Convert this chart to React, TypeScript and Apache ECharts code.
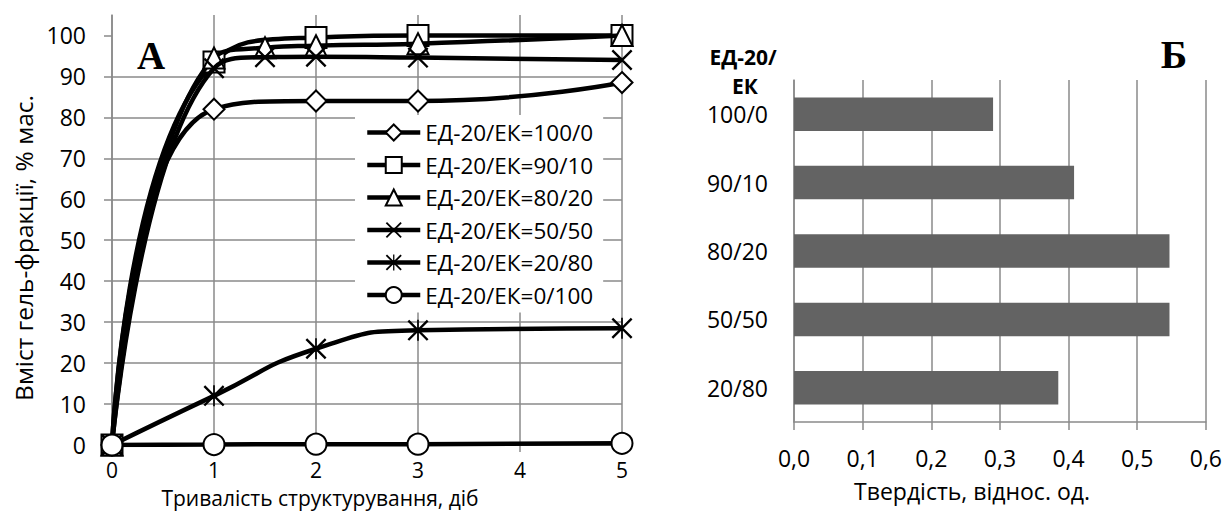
import React, { useEffect, useRef } from 'react';
import * as echarts from 'echarts';

const FONT = '"Open Sans", "Noto Sans", sans-serif';
const SERIF = '"Liberation Serif", "DejaVu Serif", serif';

// Left chart: gel-fraction content vs. curing time (days)
const names = [
  'ЕД-20/ЕК=100/0',
  'ЕД-20/ЕК=90/10',
  'ЕД-20/ЕК=80/20',
  'ЕД-20/ЕК=50/50',
  'ЕД-20/ЕК=20/80',
  'ЕД-20/ЕК=0/100',
];
const x100_0 = [0, 1, 2, 3, 5];
const y100_0 = [0, 82, 84, 84, 88.5];
const x90_10 = [0, 1, 2, 3, 5];
const y90_10 = [0, 93.5, 99.5, 100, 100];
const x80_20 = [0, 1, 1.5, 2, 3, 5];
const y80_20 = [0, 94.5, 97, 97.5, 98, 100];
const x50_50 = [0, 1, 1.5, 2, 3, 5];
const y50_50 = [0, 92, 94.7, 94.8, 94.6, 94];
const x20_80 = [0, 1, 2, 3, 5];
const y20_80 = [0, 12, 23.5, 28, 28.5];
const x0_100 = [0, 1, 2, 3, 5];
const y0_100 = [0, 0.1, 0.2, 0.2, 0.4];
const yTicks = [0, 10, 20, 30, 40, 50, 60, 70, 80, 90, 100];

// Right chart: hardness
const ratios = ['100/0', '90/10', '80/20', '50/50', '20/80'];
const hardness = [0.29, 0.408, 0.547, 0.547, 0.385];

const X_PATH = 'path://M0,8 L8,0 L100,92 L92,100 Z M92,0 L100,8 L8,100 L0,92 Z';
const STAR_PATH = 'path://M0,8 L8,0 L100,92 L92,100 Z M92,0 L100,8 L8,100 L0,92 Z M46,0 L54,0 L54,100 L46,100 Z';

const GRID_GRAY = '#8a8a8a';

function pairs(xs: number[], ys: number[]) {
  return xs.map((x, i) => [x, ys[i]]);
}

export default function App() {
  const ref = useRef<HTMLDivElement>(null);
  useEffect(() => {
    if (!ref.current) return;
    const chart = echarts.init(ref.current, undefined, { renderer: 'svg' });
    const hollow = { color: '#fff', borderColor: '#000', borderWidth: 2 };
    const solid = { color: '#000', borderColor: '#000', borderWidth: 0 };
    const defs = [
      { xs: x100_0, ys: y100_0, symbol: 'diamond', style: hollow },
      { xs: x90_10, ys: y90_10, symbol: 'rect', style: hollow },
      { xs: x80_20, ys: y80_20, symbol: 'triangle', style: hollow },
      { xs: x50_50, ys: y50_50, symbol: X_PATH, style: solid },
      { xs: x20_80, ys: y20_80, symbol: STAR_PATH, style: solid },
      { xs: x0_100, ys: y0_100, symbol: 'circle', style: hollow },
    ];
    const lineSeries = defs.map((d, i) => ({
      type: 'line',
      name: names[i],
      xAxisIndex: 0,
      yAxisIndex: 0,
      data: pairs(d.xs, d.ys),
      smooth: 0.55,
      symbol: d.symbol,
      symbolSize: 21,
      showAllSymbol: true,
      lineStyle: { color: '#000', width: 4.5 },
      itemStyle: d.style,
      z: 3 + i,
    }));
    const splitColors = yTicks.map(() => GRID_GRAY).concat(['rgba(0,0,0,0)']);
    chart.setOption({
      animation: false,
      backgroundColor: '#fff',
      textStyle: { fontFamily: FONT, color: '#000' },
      grid: [
        { left: 112, top: 15, width: 510, height: 430 },
        { left: 794, top: 80, width: 412, height: 342 },
      ],
      xAxis: [
        {
          type: 'value',
          gridIndex: 0,
          min: 0,
          max: 5,
          interval: 1,
          axisLine: { show: true, onZero: false, lineStyle: { color: GRID_GRAY, width: 1.5 } },
          axisTick: { show: true, length: 7, lineStyle: { color: GRID_GRAY, width: 1.5 } },
          axisLabel: { fontSize: 21, lineHeight: 20, color: '#000', margin: 15, fontFamily: FONT },
          splitLine: { show: true, lineStyle: { color: GRID_GRAY, width: 1.5 } },
        },
        {
          type: 'value',
          gridIndex: 1,
          min: 0,
          max: 0.6,
          interval: 0.1,
          axisLine: { show: true, lineStyle: { color: GRID_GRAY, width: 1.5 } },
          axisTick: { show: true, length: 8, lineStyle: { color: GRID_GRAY, width: 1.5 } },
          axisLabel: {
            fontSize: 23,
            lineHeight: 20,
            color: '#000',
            margin: 26,
            fontFamily: FONT,
            formatter: (v: number) => v.toFixed(1).replace('.', ','),
          },
          splitLine: { show: true, lineStyle: { color: GRID_GRAY, width: 1.5 } },
        },
      ],
      yAxis: [
        {
          type: 'value',
          gridIndex: 0,
          min: 0,
          max: 105,
          interval: 10,
          axisLine: { show: true, lineStyle: { color: GRID_GRAY, width: 1.5 } },
          axisTick: { show: true, length: 8, customValues: yTicks, lineStyle: { color: GRID_GRAY, width: 1.5 } },
          axisLabel: {
            fontSize: 23,
            color: '#000',
            margin: 26,
            fontFamily: FONT,
            customValues: yTicks,
            formatter: (v: number) => (v > 100 ? '' : String(v)),
          },
          splitLine: { show: true, showMaxLine: false, lineStyle: { color: splitColors, width: 1.5 } },
        },
        {
          type: 'category',
          gridIndex: 1,
          data: ratios,
          inverse: true,
          axisLine: { show: true, lineStyle: { color: GRID_GRAY, width: 1.5 } },
          axisTick: { show: false },
          axisLabel: { fontSize: 23, color: '#000', margin: 26, fontFamily: FONT },
          splitLine: { show: false },
        },
      ],
      legend: {
        orient: 'vertical',
        left: 355,
        top: 115,
        padding: [6, 10, 6, 10],
        itemWidth: 53,
        itemHeight: 20,
        itemGap: 9.5,
        itemTextGap: 5,
        backgroundColor: '#fff',
        selectedMode: false,
        data: names,
        lineStyle: { width: 4.5, color: '#000' },
        textStyle: { fontSize: 22.5, color: '#000', fontFamily: FONT },
      },
      series: [
        ...lineSeries,
        {
          type: 'bar',
          name: 'Твердість',
          xAxisIndex: 1,
          yAxisIndex: 1,
          data: hardness,
          barCategoryGap: '51%',
          itemStyle: { color: '#636363' },
        },
      ],
      graphic: [
        {
          type: 'text',
          x: 151,
          y: 55,
          style: { text: 'А', font: `bold 39px ${SERIF}`, fill: '#000', textAlign: 'center', textVerticalAlign: 'middle' },
        },
        {
          type: 'text',
          x: 1174,
          y: 54,
          style: { text: 'Б', font: `bold 40px ${SERIF}`, fill: '#000', textAlign: 'center', textVerticalAlign: 'middle' },
        },
        {
          type: 'text',
          x: 23,
          y: 248,
          rotation: Math.PI / 2,
          style: {
            text: 'Вміст гель-фракції, % мас.',
            font: `24.5px ${FONT}`,
            fill: '#000',
            textAlign: 'center',
            textVerticalAlign: 'middle',
          },
        },
        {
          type: 'text',
          x: 320,
          y: 498,
          style: {
            text: 'Тривалість структурування, діб',
            font: `21px ${FONT}`,
            lineHeight: 20,
            fill: '#000',
            textAlign: 'center',
            textVerticalAlign: 'middle',
          },
        },
        {
          type: 'text',
          x: 972,
          y: 491,
          style: {
            text: 'Твердість, віднос. од.',
            font: `23px ${FONT}`,
            fill: '#000',
            textAlign: 'center',
            textVerticalAlign: 'middle',
          },
        },
        {
          type: 'text',
          x: 743,
          y: 57,
          style: { text: 'ЕД-20/', font: `bold 21px ${FONT}`, fill: '#000', textAlign: 'center', textVerticalAlign: 'middle' },
        },
        {
          type: 'text',
          x: 745,
          y: 86,
          style: { text: 'ЕК', font: `bold 21px ${FONT}`, fill: '#000', textAlign: 'center', textVerticalAlign: 'middle' },
        },
      ],
    });
    return () => chart.dispose();
  }, []);
  return <div ref={ref} style={{ position: 'fixed', left: 0, top: 0, width: 1225, height: 513 }} />;
}
